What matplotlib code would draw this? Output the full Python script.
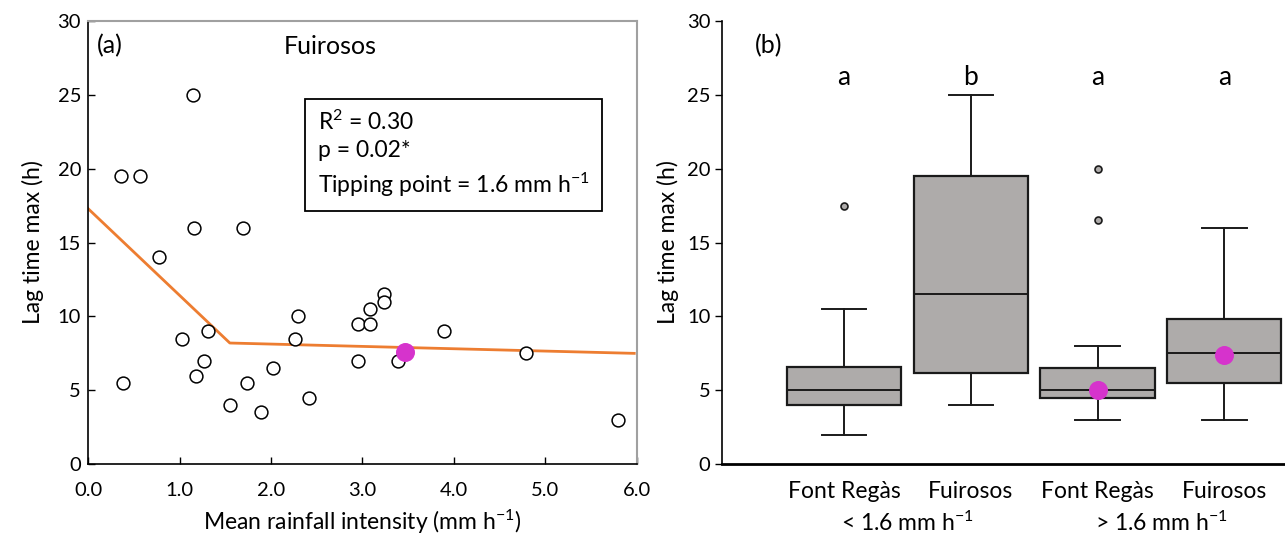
import numpy as np
import matplotlib.pyplot as plt
from matplotlib.ticker import MultipleLocator, FormatStrFormatter

plt.rcParams['font.family'] = ['Lato', 'DejaVu Sans']
plt.rcParams['mathtext.fontset'] = 'custom'
plt.rcParams['mathtext.rm'] = 'Lato'
plt.rcParams['mathtext.it'] = 'Lato:italic'

# ---------------- data: panel (a) ----------------
rain = [1.15, 0.36, 0.57, 1.16, 1.69, 0.78, 3.24, 3.24, 3.08, 2.30,
        2.95, 3.08, 3.89, 1.31, 1.03, 2.26, 4.79, 1.27, 2.95, 3.39,
        2.02, 1.18, 0.38, 1.74, 2.41, 1.55, 1.89, 5.79]
lag = [25.0, 19.5, 19.5, 16.0, 16.0, 14.0, 11.5, 11.0, 10.5, 10.0,
       9.5, 9.5, 9.0, 9.0, 8.5, 8.5, 7.5, 7.0, 7.0, 7.0,
       6.5, 6.0, 5.5, 5.5, 4.5, 4.0, 3.5, 3.0]
highlight_a = (3.47, 7.6)
seg_x = [0.0, 1.55, 5.97]
seg_y = [17.3, 8.2, 7.5]

# ---------------- data: panel (b) ----------------
groups = ['Font Regàs', 'Fuirosos', 'Font Regàs', 'Fuirosos']
q1 = [4.0, 6.2, 4.5, 5.5]
med = [5.0, 11.5, 5.0, 7.5]
q3 = [6.6, 19.5, 6.5, 9.85]
wlo = [2.0, 4.0, 3.0, 3.0]
whi = [10.5, 25.0, 8.0, 16.0]
fliers = [[17.5], [], [20.0, 16.5], []]
letters = ['a', 'b', 'a', 'a']
highlight_b = [(3, 5.0), (4, 7.4)]

fig = plt.figure(figsize=(12.85, 5.36), dpi=100)
ax1 = fig.add_axes([0.0685, 0.134, 0.4272, 0.827])
ax2 = fig.add_axes([0.562, 0.134, 0.45, 0.827])

fs = 14.5
lfs = 16.5

# ---------------- panel (a) ----------------
ax1.plot(seg_x, seg_y, color='#ED7D31', linewidth=2, zorder=2)
ax1.scatter(rain, lag, s=85, facecolor='white', edgecolor='black', linewidth=1.1, zorder=3)
ax1.scatter([highlight_a[0]], [highlight_a[1]], s=160, color='#D633CC', zorder=4)
ax1.set_xlim(0, 6)
ax1.set_ylim(0, 30)
ax1.xaxis.set_major_locator(MultipleLocator(1))
ax1.xaxis.set_major_formatter(FormatStrFormatter('%.1f'))
ax1.yaxis.set_major_locator(MultipleLocator(5))
ax1.tick_params(direction='in', length=5, width=1, labelsize=fs)
ax1.tick_params(axis='x', pad=13)
ax1.tick_params(axis='y', pad=5)
for s in ['top', 'right']:
    ax1.spines[s].set_color('#A0A0A0')
    ax1.spines[s].set_linewidth(1.5)
for s in ['left', 'bottom']:
    ax1.spines[s].set_linewidth(1.2)
ax1.set_xlabel('Mean rainfall intensity (mm h$^{-1}$)', fontsize=lfs, labelpad=6)
ax1.set_ylabel('Lag time max (h)', fontsize=lfs, labelpad=10)
ax1.text(0.1, 28.3, '(a)', fontsize=18, va='center')
ax1.text(2.65, 28.3, 'Fuirosos', fontsize=18, ha='center', va='center')
ax1.text(2.51, 21.0, 'R$^{2}$ = 0.30\np = 0.02*\nTipping point = 1.6 mm h$^{-1}$',
         fontsize=16.5, va='center', ha='left', linespacing=1.4,
         bbox=dict(boxstyle='square,pad=0.55', facecolor='white', edgecolor='black', linewidth=1.3))

# ---------------- panel (b) ----------------
stats = []
for i in range(len(groups)):
    stats.append(dict(label=groups[i], q1=q1[i], med=med[i], q3=q3[i],
                      whislo=wlo[i], whishi=whi[i], fliers=fliers[i]))
pos = np.arange(1, len(groups) + 1)
ax2.bxp(stats, positions=pos, widths=0.9, patch_artist=True,
        boxprops=dict(facecolor='#AEABAA', edgecolor='#1A1A1A', linewidth=1.6),
        medianprops=dict(color='#1A1A1A', linewidth=1.4),
        whiskerprops=dict(color='#1A1A1A', linewidth=1.4),
        capprops=dict(color='#1A1A1A', linewidth=1.4), capwidths=0.35,
        flierprops=dict(marker='o', markersize=5, markerfacecolor='#AEABAA',
                        markeredgecolor='#1A1A1A', markeredgewidth=1.2))
for p, v in highlight_b:
    ax2.scatter([p], [v], s=160, color='#D633CC', zorder=5)
for p, l in zip(pos, letters):
    ax2.text(p, 26.2, l, fontsize=19, ha='center', va='center')
ax2.set_xlim(0.04, 4.6)
ax2.set_ylim(0, 30)
ax2.yaxis.set_major_locator(MultipleLocator(5))
ax2.tick_params(axis='y', direction='out', length=5, width=1, labelsize=fs)
ax2.tick_params(axis='x', length=0, labelsize=lfs, pad=12)
ax2.spines['top'].set_visible(False)
ax2.spines['right'].set_visible(False)
ax2.spines['left'].set_linewidth(1.2)
ax2.spines['bottom'].set_linewidth(2)
ax2.set_ylabel('Lag time max (h)', fontsize=lfs, labelpad=6)
ax2.text(0.3, 28.3, '(b)', fontsize=18, va='center')
ax2.text(1.5, -3.95, '< 1.6 mm h$^{-1}$', fontsize=lfs, ha='center', va='center')
ax2.text(3.5, -3.95, '> 1.6 mm h$^{-1}$', fontsize=lfs, ha='center', va='center')

fig.savefig('out.png', dpi=100)
